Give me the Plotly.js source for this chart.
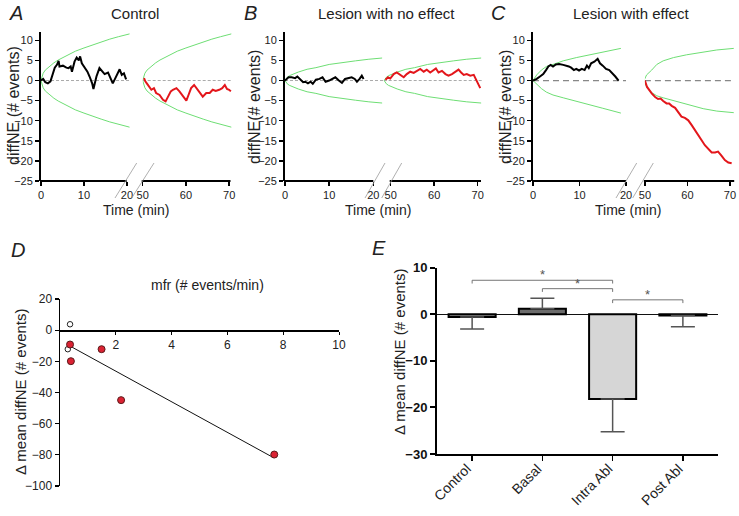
<!DOCTYPE html>
<html><head><meta charset="utf-8">
<script src="https://cdn.plot.ly/plotly-3.0.1.min.js"></script>
<style>html,body{margin:0;padding:0;background:#fff}#chart{width:739px;height:516px}</style>
</head><body><div id="chart"></div>
<script>
// ---------- Panel A (Control) ----------
var tA_pre = [0,0.5,1,1.6,2.2,2.6,3.2,3.7,4.1,4.3,5.1,5.9,6.4,6.9,7.2,7.8,8.3,8.8,9.1,9.5,10.2,10.8,11.3,11.9,12.2,12.9,13.6,14.2,14.8,15.6,16.2,16.7,17.3,17.9,18.3,18.8,19.3,19.8];
var vA_pre = [0,0.4,-0.4,-0.7,-0.2,1.4,3.2,3.9,4.9,3.5,3.7,3.2,3.1,3.5,2.2,4.7,5.7,5.0,6.0,4.3,3.2,2.2,1.0,-0.7,-2.1,1.0,3.1,2.4,1.6,2.0,0.6,-0.7,0.6,2.2,2.8,1.4,1.8,0.3];
var tA_post = [50.3,50.6,51.2,52,52.6,53.1,53.9,54.7,55.3,55.8,56.5,57,57.8,58.5,59.1,59.7,60.1,60.6,61.2,61.9,62.4,63.2,63.9,64.7,65.5,66.2,66.9,67.7,68.4,69,69.5,70,70.4];
var vA_post = [0.6,-0.2,-1.1,-2.3,-1.9,-3.1,-3.6,-4.8,-5.2,-4.0,-2.7,-2.3,-1.9,-2.7,-3.6,-4.5,-5.0,-3.6,-1.9,-1.1,-1.9,-3.1,-4.0,-3.1,-3.1,-2.3,-2.6,-2.3,-1.9,-1.1,-2.1,-2.3,-2.7];
var tEnvA_pre = [0,0.5,1,2,3,4,5,6,8,10,12,14,16,18,20.6];
var tEnvA_post = [50,50.5,51,52,53,54,55,56,58,60,62,64,66,68,70.5];
var envA_up = [0,1.8,2.6,3.6,4.4,5.1,5.7,6.3,7.3,8.1,8.9,9.6,10.3,10.9,11.6];
var envA_lo = [0,-1.8,-2.6,-3.6,-4.4,-5.1,-5.7,-6.3,-7.3,-8.1,-8.9,-9.6,-10.3,-10.9,-11.6];

// ---------- Panel B (Lesion with no effect) ----------
var tB_pre = [0,0.8,1.5,2.3,2.8,3.4,4.1,4.6,5.2,5.8,6.3,7.0,7.8,8.5,9.2,10.0,10.7,11.4,12.2,12.9,13.6,14.4,15.1,15.8,16.3,16.9,17.4,17.8];
var vB_pre = [0,0.8,0.8,0.6,1.0,0.4,-0.4,-0.3,-0.7,-0.3,-0.8,0.2,0.4,0.8,-0.3,0,0.4,0.8,0,-0.6,0.4,0.6,0.8,0.4,-0.3,0.4,1.2,0.4];
var tB_post = [48.8,49.4,49.9,50.7,51.4,52.2,53.0,53.7,54.5,55.3,56.0,56.8,57.6,58.3,59.1,59.9,60.4,61.0,61.8,62.6,63.3,64.1,64.9,65.6,66.2,66.8,67.5,68.3,69.1,69.6,70.2,70.6];
var vB_post = [0.2,0.8,0.5,1.6,2.0,1.4,0.8,1.6,2.2,1.9,2.4,2.9,2.2,2.7,2.0,2.7,3.0,2.0,2.4,1.6,1.2,1.6,2.2,2.7,2.0,1.4,1.6,1.2,1.4,0.4,-1.1,-1.9];
var tEnvB_pre = [0,0.5,1,2,3,5,7,10,13,16,19,22];
var tEnvB_post = [48.5,49,49.5,50.5,51.5,53.5,55.5,58.5,61.5,64.5,67.5,70.8];
var envB_up = [0,0.8,1.2,1.7,2.1,2.8,3.2,4.0,4.5,4.9,5.3,5.6];
var envB_lo = [0,-0.8,-1.2,-1.7,-2.1,-2.8,-3.2,-4.0,-4.5,-4.9,-5.3,-5.6];

// ---------- Panel C (Lesion with effect) ----------
var tC_pre = [0,0.8,1.5,2.2,2.8,3.3,3.8,4.3,4.9,5.6,6.5,7.2,7.7,8.2,8.8,9.3,9.9,10.5,11.1,11.6,12.0,12.5,13.2,13.9,14.4,15.0,15.7,16.4,17.1,17.7,18.4];
var vC_pre = [0,0.4,1.0,1.6,2.6,3.5,3.9,3.5,4.0,4.1,3.9,3.7,3.5,3.2,2.6,2.9,2.5,2.9,2.6,3.7,3.1,4.3,4.7,5.4,4.3,3.7,2.9,2.6,1.8,1.0,0];
var tC_post = [50,50.5,51.6,52.4,53.1,53.7,54.3,55.1,55.7,56.3,57.1,57.8,58.6,59.4,60.2,61.0,61.8,62.6,63.3,64.1,64.9,65.7,66.5,67.2,68.0,68.8,69.6,70.4];
var vC_post = [0,-1.6,-3.2,-4.1,-4.6,-4.5,-5.1,-5.7,-5.7,-6.3,-6.8,-7.8,-9.0,-9.3,-9.9,-11.1,-12.3,-13.6,-14.8,-16.1,-17.0,-17.9,-17.9,-17.7,-18.7,-19.8,-20.4,-20.6];
var tEnvC_pre = [0,0.8,1.8,2.9,4.3,6.5,9.3,12.1,15.0,18.9];
var envC_up_pre = [0,1.4,2.6,3.5,4.0,4.9,5.7,6.4,7.0,8.0];
var envC_lo_pre = [0,-1.0,-2.0,-2.9,-3.6,-4.3,-5.1,-6.0,-6.9,-8.1];
var tEnvC_post = [49.8,50.4,51.6,52.8,54.3,56.7,59.8,63.7,66.9,70.9];
var envC_up_post = [0,1.4,2.6,4.0,4.9,5.7,6.4,7.0,7.6,8.0];
var envC_lo_post = [0,-1.6,-3.0,-3.8,-4.3,-5.0,-6.0,-7.0,-7.6,-8.0];

// ---------- Panel D ----------
var mfrOpen = [0.36, 0.28];
var dOpen = [3.8, -12.2];
var mfrRed = [0.36, 0.39, 1.49, 2.19, 7.68];
var dRed = [-9.2, -19.9, -12.2, -44.9, -79.8];
var fitX = [0.41, 7.65];
var fitY = [-10.7, -81.8];

// ---------- Panel E ----------
var groups = ['Control', 'Basal', 'Intra Abl', 'Post Abl'];
var groupMeans = [-0.56, 1.16, -18.2, -0.28];
var errUp = [0, 2.3, 0, 0];
var errDown = [2.6, 0, 7.0, 2.4];
var barColors = ['#8e8e8e', '#6c6c6c', '#d6d6d6', '#3a3a3a'];
var brackets = [[0, 2, 7.3], [1, 2, 5.5], [2, 3, 3.1]];

var FONT = 'Liberation Sans, Arial, sans-serif';
var W = 739, H = 516;
function px(x){return x / W;}
function py(y){return (H - y) / H;}

var GREEN = '#6ede74', RED = '#e3161b';
var traces = [];
function line(x, y, xa, ya, color, width){
  traces.push({x:x, y:y, xaxis:xa, yaxis:ya, type:'scatter', mode:'lines',
    line:{color:color, width:width}, hoverinfo:'skip', showlegend:false});
}
// A
line(tEnvA_pre, envA_up, 'x', 'y', GREEN, 1); line(tEnvA_pre, envA_lo, 'x', 'y', GREEN, 1);
line(tEnvA_post, envA_up, 'x2', 'y', GREEN, 1); line(tEnvA_post, envA_lo, 'x2', 'y', GREEN, 1);
line(tA_pre, vA_pre, 'x', 'y', '#000', 2); line(tA_post, vA_post, 'x2', 'y', RED, 2);
// B
line(tEnvB_pre, envB_up, 'x3', 'y2', GREEN, 1); line(tEnvB_pre, envB_lo, 'x3', 'y2', GREEN, 1);
line(tEnvB_post, envB_up, 'x4', 'y2', GREEN, 1); line(tEnvB_post, envB_lo, 'x4', 'y2', GREEN, 1);
line(tB_pre, vB_pre, 'x3', 'y2', '#000', 2); line(tB_post, vB_post, 'x4', 'y2', RED, 2);
// C
line(tEnvC_pre, envC_up_pre, 'x5', 'y3', GREEN, 1); line(tEnvC_pre, envC_lo_pre, 'x5', 'y3', GREEN, 1);
line(tEnvC_post, envC_up_post, 'x6', 'y3', GREEN, 1); line(tEnvC_post, envC_lo_post, 'x6', 'y3', GREEN, 1);
line(tC_pre, vC_pre, 'x5', 'y3', '#000', 2); line(tC_post, vC_post, 'x6', 'y3', RED, 2);
// D
line(fitX, fitY, 'x7', 'y4', '#111', 1);
traces.push({x:mfrOpen, y:dOpen, xaxis:'x7', yaxis:'y4', type:'scatter', mode:'markers',
  marker:{size:5.5, color:'#fff', line:{color:'#222', width:1}}, showlegend:false, cliponaxis:false});
traces.push({x:mfrRed, y:dRed, xaxis:'x7', yaxis:'y4', type:'scatter', mode:'markers',
  marker:{size:7, color:'#db2233', line:{color:'#5a1a1a', width:1}}, showlegend:false, cliponaxis:false});
// E
traces.push({x:groups, y:groupMeans, xaxis:'x8', yaxis:'y5', type:'bar', width:0.67,
  marker:{color:barColors, line:{color:'#000', width:2}},
  error_y:{type:'data', symmetric:false, array:errUp, arrayminus:errDown, color:'#555', thickness:1.5, width:12},
  showlegend:false});

var tickFont = {family:FONT, size:11, color:'#222'};
function yTime(anchor, dom){
  return {domain:dom, anchor:anchor, range:[-25,12], tickvals:[-25,-20,-15,-10,-5,0,5,10],
    showline:true, linewidth:2, linecolor:'#000', ticks:'outside', ticklen:4, tickwidth:1.5, tickcolor:'#000',
    showgrid:false, zeroline:false, tickfont:tickFont, fixedrange:true};
}
function xTime(anchor, dom, range, vals){
  return {domain:dom, anchor:anchor, range:range, tickvals:vals, showline:false,
    ticks:'outside', ticklen:4, tickwidth:1.5, tickcolor:'#000', showgrid:false, zeroline:false,
    tickfont:tickFont, fixedrange:true};
}
var yDomTime = [py(181), py(32.3)];

var layout = {
  width:W, height:H, margin:{l:0, r:0, t:0, b:0}, paper_bgcolor:'#fff', plot_bgcolor:'rgba(0,0,0,0)',
  font:{family:FONT, color:'#222'}, showlegend:false,
  xaxis: xTime('y', [px(41), px(130.4)], [0, 20.8], [0,10,20]),
  xaxis2: xTime('y', [px(142.7), px(232.6)], [50, 70.8], [50,60,70]),
  yaxis: yTime('x', yDomTime),
  xaxis3: xTime('y2', [px(285), px(383)], [0, 22.2], [0,10,20]),
  xaxis4: xTime('y2', [px(383.7), px(482)], [48.4, 71], [50,60,70]),
  yaxis2: yTime('x3', yDomTime),
  xaxis5: xTime('y3', [px(533), px(626)], [0, 20], [0,10,20]),
  xaxis6: xTime('y3', [px(644.9), px(734.2)], [50, 71], [50,60,70]),
  yaxis3: yTime('x5', yDomTime),
  xaxis7: {domain:[px(60), px(339)], anchor:'free', position:py(330), range:[0,10], tickvals:[2,4,6,8,10],
    showline:true, linewidth:1.5, linecolor:'#000', ticks:'outside', ticklen:3, tickwidth:1, tickcolor:'#000',
    showgrid:false, zeroline:false, tickfont:{family:FONT, size:12, color:'#222'}, fixedrange:true},
  yaxis4: {domain:[py(486), py(299)], anchor:'x7', range:[-100,20], tickvals:[-100,-80,-60,-40,-20,0,20],
    showline:true, linewidth:1.5, linecolor:'#000', ticks:'outside', ticklen:4, tickwidth:1.2, tickcolor:'#000',
    showgrid:false, zeroline:false, tickfont:{family:FONT, size:12, color:'#222'}, fixedrange:true},
  xaxis8: {domain:[px(437), px(718)], anchor:'y5', type:'category', range:[-0.5,3.5],
    showline:true, linewidth:2, linecolor:'#000', ticks:'outside', ticklen:5, tickwidth:1.5, tickcolor:'#000',
    showticklabels:false, showgrid:false, zeroline:false, fixedrange:true},
  yaxis5: {domain:[py(454), py(267.7)], anchor:'x8', range:[-30,10], tickvals:[-30,-20,-10,0,10],
    showline:true, linewidth:2, linecolor:'#000', ticks:'outside', ticklen:5, tickwidth:2, tickcolor:'#000',
    showgrid:false, zeroline:true, zerolinecolor:'#111', zerolinewidth:1.5,
    tickfont:{family:FONT, size:13, color:'#111', weight:'bold'}, fixedrange:true},
  shapes: [], annotations: []
};

// bottom axis lines of time panels (axis ends at the labelled limits)
var axLines = [[41,126.7],[142.7,230.5],[285,373.3],[390.7,481],[533,626],[644.9,734.2]];
axLines.forEach(function(s){
  layout.shapes.push({type:'line', xref:'paper', yref:'paper', x0:px(s[0]-1), x1:px(s[1]), y0:py(181), y1:py(181),
    line:{color:'#000', width:2}});
});
// zero dashed reference lines
[['x','y',0,20.8,'#aaa',1,'3px,2px'],['x2','y',50,70.8,'#aaa',1,'3px,2px'],
 ['x3','y2',0,22.2,'#aaa',1,'3px,2px'],['x4','y2',48.4,71,'#aaa',1,'3px,2px'],
 ['x5','y3',0,20,'#888',1.2,'6px,4px'],['x6','y3',50,71,'#888',1.2,'6px,4px']].forEach(function(z){
  layout.shapes.push({type:'line', xref:z[0], yref:z[1], x0:z[2], x1:z[3], y0:0, y1:0, layer:'below',
    line:{color:z[4], width:z[5], dash:z[6]}});
});
// axis-break marks
[[115,198,136.7,163],[131.7,198,154,163],[365,198,385,163],[381.7,198,401.7,163],
 [616,198,636.7,163],[632.7,198,653.3,163]].forEach(function(b){
  layout.shapes.push({type:'line', xref:'paper', yref:'paper', x0:px(b[0]), y0:py(b[1]), x1:px(b[2]), y1:py(b[3]),
    line:{color:'#9a9a9a', width:0.8}});
});
// significance brackets (E)
brackets.forEach(function(b){
  var c = {color:'#666', width:0.9};
  layout.shapes.push({type:'line', xref:'x8', yref:'y5', x0:b[0], x1:b[1], y0:b[2], y1:b[2], line:c});
  layout.shapes.push({type:'line', xref:'x8', yref:'y5', x0:b[0], x1:b[0], y0:b[2], y1:b[2]-0.7, line:c});
  layout.shapes.push({type:'line', xref:'x8', yref:'y5', x0:b[1], x1:b[1], y0:b[2], y1:b[2]-0.7, line:c});
  layout.annotations.push({xref:'x8', yref:'y5', x:(b[0]+b[1])/2, y:b[2], yanchor:'bottom', text:'*',
    showarrow:false, font:{family:FONT, size:13, color:'#555'}, yshift:-4});
});
// rotated category labels (E)
groups.forEach(function(g, i){
  layout.annotations.push({xref:'x8', yref:'paper', x:i, y:py(458), xanchor:'right', yanchor:'top',
    text:g, textangle:-45, showarrow:false, xshift:5, font:{family:FONT, size:14, color:'#222'}});
});

function ann(text, x, y, size, opts){
  var a = {text:text, xref:'paper', yref:'paper', x:px(x), y:py(y), xanchor:'center', yanchor:'middle',
    showarrow:false, font:{family:FONT, size:size, color:'#222'}};
  if (opts) for (var k in opts) a[k] = opts[k];
  layout.annotations.push(a);
}
// panel letters
ann('<i>A</i>', 16, 13, 20); ann('<i>B</i>', 250, 13, 20); ann('<i>C</i>', 498, 13, 20);
ann('<i>D</i>', 18, 250, 20); ann('<i>E</i>', 379, 248, 20);
// panel titles
ann('Control', 135, 13, 15); ann('Lesion with no effect', 386, 13, 15); ann('Lesion with effect', 631, 13, 15);
// x titles
ann('Time (min)', 136, 210, 14); ann('Time (min)', 378, 210, 14); ann('Time (min)', 628, 210, 14);
// y titles
ann('diffNE (# events)', 13, 106, 16, {textangle:-90});
ann('diffNE(# events)', 254, 107, 16, {textangle:-90});
ann('diffNE(# events)', 505, 107, 16, {textangle:-90});
ann('mfr (# events/min)', 207, 285, 14);
ann('Δ mean diffNE (# events)', 20, 392, 15, {textangle:-90});
ann('Δ mean diffNE (# events)', 399, 352, 15, {textangle:-90});

Plotly.newPlot('chart', traces, layout, {displayModeBar:false, staticPlot:true});
</script></body></html>
